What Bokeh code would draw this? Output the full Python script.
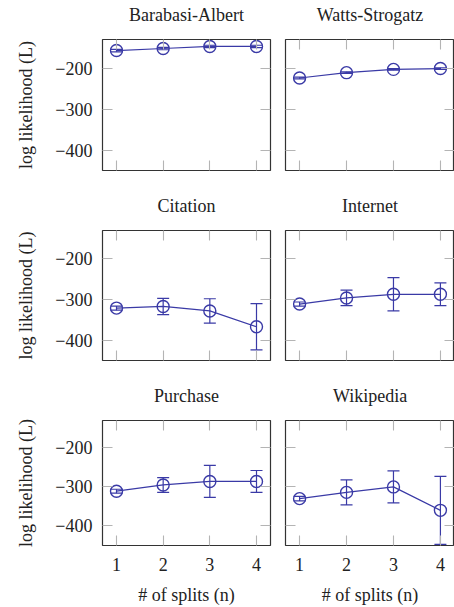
from bokeh.plotting import figure
from bokeh.layouts import column, row
from bokeh.models import (ColumnDataSource, Whisker, TeeHead, LinearAxis,
                          FixedTicker, Range1d)
from bokeh.embed import file_html
from bokeh.resources import INLINE

# ---- data ----
splits = [1, 2, 3, 4]
ba_mean = [-157, -152, -147, -147]
ba_err = [3, 3, 3, 3]
ws_mean = [-224, -211, -203, -201]
ws_err = [2, 2, 2, 2]
cit_mean = [-321, -317, -328, -367]
cit_err = [5, 20, 30, 57]
int_mean = [-311, -296, -287, -287]
int_err = [5, 19, 41, 28]
pur_mean = [-311, -295, -286, -286]
pur_err = [5, 19, 41, 28]
wik_mean = [-330, -314, -300, -360]
wik_err = [6, 32, 41, 87]

titles = ["Barabasi-Albert", "Watts-Strogatz", "Citation", "Internet",
          "Purchase", "Wikipedia"]
y_ticks = [-400, -300, -200]
y_tick_labels = ["\u2212400", "\u2212300", "\u2212200"]
x_ticks = [1, 2, 3, 4]
x_tick_labels = ["1", "2", "3", "4"]
y_label = "log likelihood (L)"
x_label = "# of splits (n)"

COLOR = "#3a3aa6"
FONT = "Liberation Serif"
TEXT = "#222222"
TICK = "#b4b4b4"


def style_axis(ax, ticks, labels=None, show_labels=False):
    ax.ticker = FixedTicker(ticks=ticks)
    ax.axis_line_color = None
    ax.major_tick_in = 10
    ax.major_tick_out = 0
    ax.major_tick_line_color = TICK
    ax.major_tick_line_width = 1.1
    ax.minor_tick_line_color = None
    if show_labels:
        ax.major_label_overrides = {t: l for t, l in zip(ticks, labels)}
        ax.major_label_text_font = FONT
        ax.major_label_text_font_size = "18px"
        ax.major_label_text_color = TEXT
    else:
        ax.major_label_text_color = None
        ax.major_label_standoff = 0


def spacer_axis(gap):
    # invisible axis used only to keep a gap between title and frame
    ax = LinearAxis(ticker=FixedTicker(ticks=x_ticks))
    ax.axis_line_color = None
    ax.major_tick_in = 0
    ax.major_tick_out = gap
    ax.major_tick_line_color = None
    ax.minor_tick_line_color = None
    ax.major_label_text_color = None
    ax.major_label_standoff = 0
    return ax


def panel(title, means, errs, left, bottom_row, height, bl, br, bt, bb, fw):
    w = bl + fw + br
    p = figure(width=w, height=height, output_backend="svg",
               toolbar_location=None, x_range=Range1d(0.7, 4.3),
               y_range=Range1d(-450, -130), min_border_left=bl,
               min_border_right=br, min_border_top=bt, min_border_bottom=bb,
               x_axis_location=None, y_axis_location=None)
    p.title.text = title
    p.title.text_font = FONT
    p.title.text_font_size = "18px"
    p.title.text_font_style = "normal"
    p.title.text_color = TEXT
    p.title.align = "center"
    p.title.standoff = 0
    p.outline_line_color = "#333333"
    p.outline_line_width = 1.2
    p.xgrid.visible = False
    p.ygrid.visible = False
    p.background_fill_color = "white"
    p.border_fill_color = "white"

    la = LinearAxis()
    style_axis(la, y_ticks, y_tick_labels, show_labels=left)
    if left:
        la.axis_label = y_label
        la.axis_label_text_font = FONT
        la.axis_label_text_font_size = "18px"
        la.axis_label_text_font_style = "normal"
        la.axis_label_text_color = TEXT
        la.axis_label_standoff = 16
        la.major_label_standoff = 10
    p.add_layout(la, "left")
    ra = LinearAxis()
    style_axis(ra, y_ticks)
    p.add_layout(ra, "right")
    xa = LinearAxis()
    style_axis(xa, x_ticks, x_tick_labels, show_labels=bottom_row)
    if bottom_row:
        xa.axis_label = x_label
        xa.axis_label_text_font = FONT
        xa.axis_label_text_font_size = "18px"
        xa.axis_label_text_font_style = "normal"
        xa.axis_label_text_color = TEXT
        xa.axis_label_standoff = 11
        xa.major_label_standoff = 12
    p.add_layout(xa, "below")
    ta = LinearAxis()
    style_axis(ta, x_ticks)
    p.add_layout(ta, "above")
    p.add_layout(spacer_axis(15), "above")

    src = ColumnDataSource(dict(
        x=splits, y=means,
        lo=[m - e for m, e in zip(means, errs)],
        hi=[m + e for m, e in zip(means, errs)]))
    p.add_layout(Whisker(source=src, base="x", lower="lo", upper="hi",
                         line_color=COLOR, line_width=1.2,
                         upper_head=TeeHead(size=12, line_color=COLOR, line_width=1.2),
                         lower_head=TeeHead(size=12, line_color=COLOR, line_width=1.2)))
    p.line("x", "y", source=src, line_color=COLOR, line_width=1.2)
    p.scatter("x", "y", source=src, marker="circle", size=12,
              fill_color=None, line_color=COLOR, line_width=1.4)
    return p


series = [(ba_mean, ba_err), (ws_mean, ws_err), (cit_mean, cit_err),
          (int_mean, int_err), (pur_mean, pur_err), (wik_mean, wik_err)]

frame_h = [131, 130, 130]
tops = [39, 39, 39]
bottoms = [21, 21, 57]
rows = []
for r in range(3):
    bottom = r == 2
    bt = tops[r]
    bb = bottoms[r]
    h = bt + frame_h[r] + bb
    lp = panel(titles[2 * r], *series[2 * r], True, bottom, h, 102, 8, bt, bb, 168)
    rp = panel(titles[2 * r + 1], *series[2 * r + 1], False, bottom, h, 7, 0, bt, bb, 169)
    rows.append(row(lp, rp, spacing=0))

layout = column(*rows, spacing=0)
open("out.html", "w").write(file_html(layout, INLINE))
